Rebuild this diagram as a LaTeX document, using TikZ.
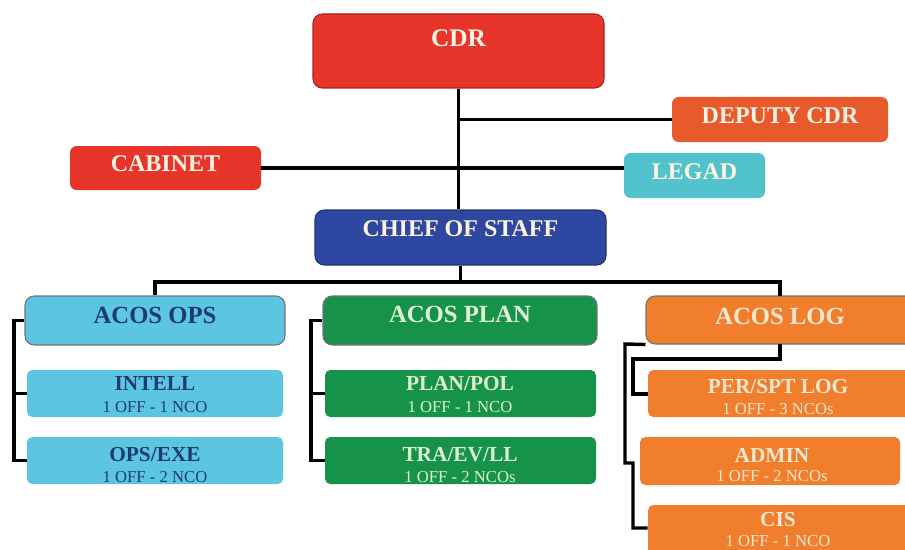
\documentclass[tikz,border=0pt]{standalone}
\usepackage{fontspec}
\setmainfont{Liberation Serif}
\usetikzlibrary{fit}
\definecolor{cdrred}{HTML}{E8352B}
\definecolor{depred}{HTML}{E85A2C}
\definecolor{legteal}{HTML}{52C3CC}
\definecolor{cosblue}{HTML}{2E48A2}
\definecolor{opsblue}{HTML}{5BC5E2}
\definecolor{navytext}{HTML}{1D3B6E}
\definecolor{plangreen}{HTML}{16924B}
\definecolor{greentext}{HTML}{DDF3D2}
\definecolor{logorange}{HTML}{F07E2C}
\definecolor{orangetext}{HTML}{FCE8D0}
\definecolor{creamtext}{HTML}{FFF3E2}
\begin{document}
\begin{tikzpicture}[x=0.75pt,y=-0.75pt,
  bigbox/.style={rounded corners=7pt,inner sep=0pt,draw=black!55,line width=0.8pt},
  topbox/.style={rounded corners=5pt,inner sep=0pt},
  subbox/.style={rounded corners=4pt,inner sep=0pt},
  toptext/.style={font=\bfseries\fontsize{18}{18}\selectfont,text=creamtext,inner sep=0pt},
  acostext/.style={font=\bfseries\fontsize{18.5}{18.5}\selectfont,inner sep=0pt},
  subtitle/.style={font=\bfseries\fontsize{16}{16}\selectfont,inner sep=0pt},
  subline/.style={font=\fontsize{12.5}{12.5}\selectfont,inner sep=0pt},
  conn/.style={line width=2.6pt,black}]
\useasboundingbox[fill=white] (0,0) rectangle (905,549);

% top level
\node[bigbox,draw=cdrred!70!black,fill=cdrred,fit={(313,14)(604,88)}] (cdr) {};
\node[toptext,font=\bfseries\fontsize{19}{19}\selectfont] (tcdr) at (458.5,38) {CDR};
\node[topbox,fill=depred,fit={(672,97)(888,142)}] (dep) {};
\node[toptext] (tdep) at (780,116) {DEPUTY CDR};
\node[topbox,fill=cdrred,fit={(70,146)(261,190)}] (cab) {};
\node[toptext] (tcab) at (165.5,164) {CABINET};
\node[topbox,fill=legteal,fit={(624,153)(765,198)}] (leg) {};
\node[toptext] (tleg) at (694.5,172) {LEGAD};
\node[bigbox,draw=cosblue!70!black,fill=cosblue,fit={(315,210)(606,265)}] (cos) {};
\node[toptext] (tcos) at (460.5,229) {CHIEF OF STAFF};

% ACOS level
\node[bigbox,fill=opsblue,fit={(25,296)(285,345)}] (aops) {};
\node[acostext,text=navytext] (taops) at (155,315) {ACOS OPS};
\node[bigbox,fill=plangreen,fit={(323,296)(597,345)}] (aplan) {};
\node[acostext,text=greentext] (taplan) at (460,314) {ACOS PLAN};
\node[bigbox,fill=logorange,fit={(646,296)(915,344)}] (alog) {};
\node[acostext,text=orangetext] (talog) at (780,316) {ACOS LOG};

% OPS sub boxes
\node[subbox,fill=opsblue,fit={(27,370)(283,417)}] (intell) {};
\node[subtitle,text=navytext] at (155,384) {INTELL};
\node[subline,text=navytext] at (155,407) {1 OFF - 1 NCO};
\node[subbox,fill=opsblue,fit={(27,437)(283,484)}] (opsexe) {};
\node[subtitle,text=navytext] at (155,455) {OPS/EXE};
\node[subline,text=navytext] at (155,477) {1 OFF - 2 NCO};

% PLAN sub boxes
\node[subbox,fill=plangreen,fit={(325,370)(596,417)}] (planpol) {};
\node[subtitle,text=greentext] at (460,384) {PLAN/POL};
\node[subline,text=greentext] at (460,407) {1 OFF - 1 NCO};
\node[subbox,fill=plangreen,fit={(325,437)(596,484)}] (tra) {};
\node[subtitle,text=greentext] at (460,455) {TRA/EV/LL};
\node[subline,text=greentext] at (460,477) {1 OFF - 2 NCOs};

% LOG sub boxes
\node[subbox,fill=logorange,fit={(648,370)(915,417)}] (per) {};
\node[subtitle,text=orangetext] at (778,387) {PER/SPT LOG};
\node[subline,text=orangetext] at (778,409) {1 OFF - 3 NCOs};
\node[subbox,fill=logorange,fit={(640,437)(900,485)}] (admin) {};
\node[subtitle,text=orangetext] at (772,455) {ADMIN};
\node[subline,text=orangetext] at (772,476) {1 OFF - 2 NCOs};
\node[subbox,fill=logorange,fit={(648,505)(915,560)}] (cis) {};
\node[subtitle,text=orangetext] at (778,520) {CIS};
\node[subline,text=orangetext] at (778,541) {1 OFF - 1 NCO};

% connectors
\coordinate (bus) at (460,282);
\draw[conn] (cdr.south) -- (cdr.south |- cos.north);
\draw[conn] (dep.west) -- (dep.west -| cdr.south);
\draw[conn] (cab.east) -- (cab.east -| leg.west);
\draw[conn] (cos.south) -- (cos.south |- bus);
\draw[conn] (aops.north) |- (bus) -| (780,296);

% OPS bracket
\coordinate (ob) at (14,0);
\draw[conn] (aops.west) -| (ob |- opsexe.west) -- (opsexe.west);
\draw[conn] (ob |- intell.west) -- (intell.west);
% PLAN bracket
\coordinate (pb) at (311,0);
\draw[conn] (aplan.west |- aops.west) -| (pb |- tra.west) -- (tra.west);
\draw[conn] (pb |- planpol.west) -- (planpol.west);
% LOG brackets
\draw[conn] (alog.south west) -- (625,344) -- (625,463) -- (633,463) -- (633,528) -- (cis.west |- 0,528);
\draw[conn] (780,344) -- (780,359) -- (633,359) -- (633,394) -- (per.west |- 0,394);
\end{tikzpicture}
\end{document}
